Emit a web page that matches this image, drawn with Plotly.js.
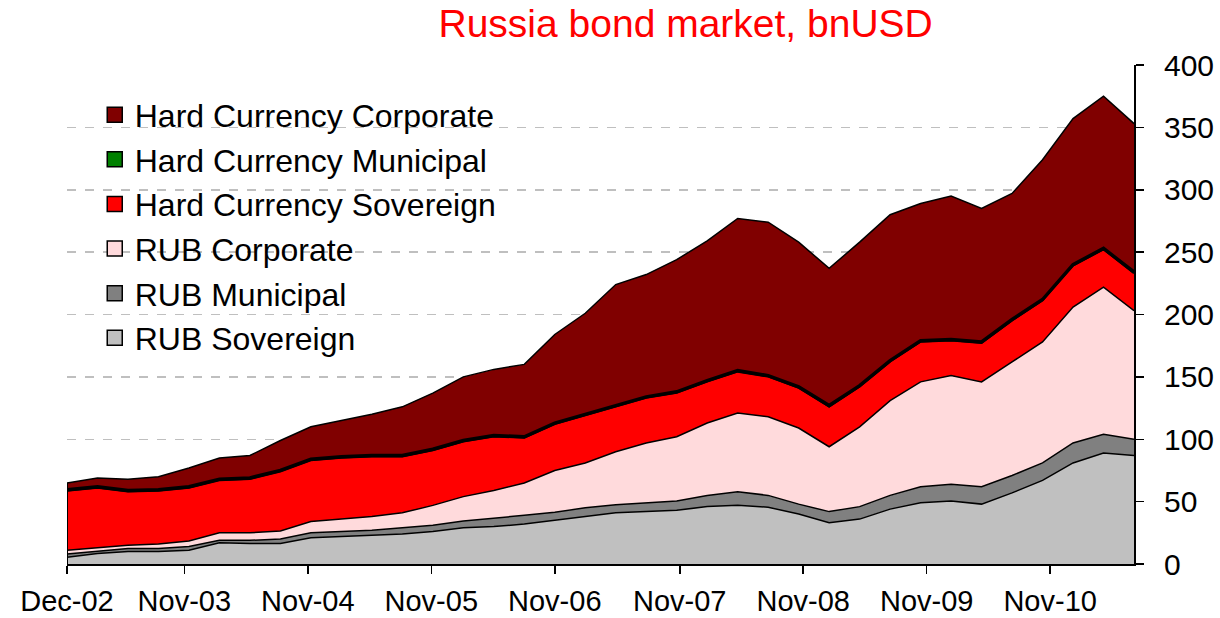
<!DOCTYPE html>
<html>
<head>
<meta charset="utf-8">
<script src="https://cdn.plot.ly/plotly-3.0.1.min.js"></script>
<style>html,body{margin:0;padding:0;background:#fff;}#chart{width:1220px;height:618px;}</style>
</head>
<body>
<div id="chart"></div>
<script>
// Quarterly observations, Dec-02 .. mid-2011 (index along the time axis)
const periods = [0,1,2,3,4,5,6,7,8,9,10,11,12,13,14,15,16,17,18,19,20,21,22,23,24,25,26,27,28,29,30,31,32,33,34,35];

const rubSovereign = [5.5,8.5,10,10,11,17,16.5,16.5,21,22,22.5,24,26,29,30,32,35,38,41,42,43,46,47,45.5,40,33,36,44,49,50.5,48,57,67,81,89,87];
const rubMunicipal = [2.5,2,2.5,2.5,3,2,2.5,3.5,4,4,4.5,5,5,5.5,6.5,7,6.5,7,6.5,7,7.5,9,11,9.5,8,9,10,11,13,13.5,14,14,14,16,15,13];
const rubCorporate = [3,2.5,2.5,3.5,4.5,6,6,6.5,9,10,11,12,16,19.5,22.5,26,33.5,36,42.5,48,51.5,58,63,63,61,52,64,76,84,87,84,91,97,109,118,103];
const hcSovereign  = [47.5,48,43,42.5,42.5,42,43,47.5,49,49,48,45,44,44,43,36,37,38,36,36,35,33,33,32,32,32,32,31,32,28,31,33,33,33,30,30];
const hcMunicipal  = [1,1,1,1,1,1,1,1,1,1,1,1,1,1,1,1,1,1,1,1,1,1,1,1,1,1,1,1,1,1,1,1,1,1,1,1];
const hcCorporate  = [5.5,7,9,10.5,15,17,18,24,26,29,33,39,45,51,53,58,71,81,97,98,106,112,122,123,116,110,115,117,110,115,107,101,112,117,122,119];

const xTickPos    = [0,3.85,7.9,11.95,16.0,20.1,24.15,28.2,32.25];
const xTickLabels = ['Dec-02','Nov-03','Nov-04','Nov-05','Nov-06','Nov-07','Nov-08','Nov-09','Nov-10'];

const seriesNames  = ['RUB Sovereign','RUB Municipal','RUB Corporate','Hard Currency Sovereign','Hard Currency Municipal','Hard Currency Corporate'];
const seriesValues = [rubSovereign, rubMunicipal, rubCorporate, hcSovereign, hcMunicipal, hcCorporate];
const seriesColors = ['#C0C0C0','#808080','#FFDADC','#FF0000','#008000','#800000'];
const seriesLineW  = [1.5, 1.5, 1.5, 1.5, 3.5, 1.5];

const FONT = 'Liberation Sans, Arial, sans-serif';
const traces = [];
seriesValues.forEach((vals, k) => {
  traces.push({
    x: periods, y: vals, type: 'scatter', mode: 'lines',
    stackgroup: 'one', name: seriesNames[k], showlegend: false,
    line: {color: '#000000', width: seriesLineW[k], shape: 'linear'},
    fillcolor: seriesColors[k], hoverinfo: 'skip'
  });
});
// left edge outline of the stacked area
const firstTotal = seriesValues.reduce((s, v) => s + v[0], 0);
traces.push({x: [periods[0], periods[0]], y: [0, firstTotal], type: 'scatter', mode: 'lines',
  line: {color: '#000', width: 2}, showlegend: false, hoverinfo: 'skip'});
// legend entries (square swatches), top to bottom
for (let k = seriesNames.length - 1; k >= 0; k--) {
  traces.push({
    x: [null], y: [null], type: 'scatter', mode: 'markers', name: seriesNames[k],
    marker: {symbol: 'square', size: 15, color: seriesColors[k], line: {color: '#000', width: 1.5}},
    showlegend: true
  });
}

const layout = {
  width: 1220, height: 618,
  margin: {l: 67, r: 86, t: 65, b: 54, pad: 0},
  paper_bgcolor: '#ffffff', plot_bgcolor: '#ffffff',
  font: {family: FONT, color: '#000000', size: 30},
  title: {text: 'Russia bond market, bnUSD', font: {family: FONT, size: 39, color: '#FF0000'},
          x: 0.562, xref: 'container', xanchor: 'center', y: 0.962, yref: 'container', yanchor: 'middle'},
  xaxis: {range: [0, 35], tickmode: 'array', tickvals: xTickPos, ticktext: xTickLabels,
          ticks: 'outside', ticklen: 8, tickwidth: 1.5, tickcolor: '#000',
          showline: true, linecolor: '#000', linewidth: 1.5, showgrid: false, zeroline: false,
          tickfont: {family: FONT, size: 29, color: '#000'}, ticklabelstandoff: 3, fixedrange: true},
  yaxis: {side: 'right', range: [0, 400], tick0: 0, dtick: 50,
          ticks: 'outside', ticklen: 8, tickwidth: 1.5, tickcolor: '#000',
          showline: true, linecolor: '#000', linewidth: 2,
          showgrid: true, gridcolor: '#BFBFBF', griddash: 'dash', gridwidth: 1.5, zeroline: false,
          tickfont: {family: FONT, size: 30, color: '#000'}, ticklabelstandoff: 14, fixedrange: true},
  legend: {x: 0.026, xanchor: 'left', y: 0.955, yanchor: 'top', bgcolor: 'rgba(0,0,0,0)',
           font: {family: FONT, size: 32, color: '#000'}, traceorder: 'normal', itemclick: false}
};

Plotly.newPlot('chart', traces, layout, {displayModeBar: false, staticPlot: true});
</script>
</body>
</html>
